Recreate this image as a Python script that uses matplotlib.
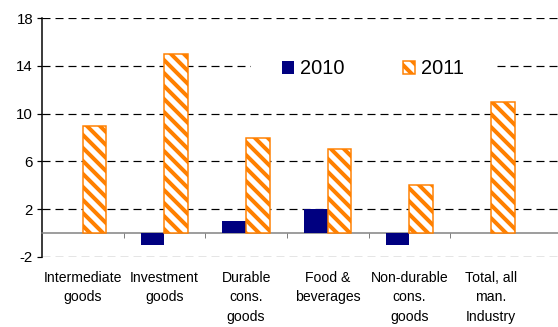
import matplotlib
matplotlib.use("Agg")
import matplotlib.pyplot as plt
import numpy as np

categories = ["Intermediate\ngoods", "Investment\ngoods", "Durable\ncons.\ngoods",
              "Food &\nbeverages", "Non-durable\ncons.\ngoods", "Total, all\nman.\nIndustry"]
values_2010 = [0, -1, 1, 2, -1, 0]
values_2011 = [9, 15, 8, 7, 4, 11]
series_labels = ["2010", "2011"]
y_ticks = [-2, 2, 6, 10, 14, 18]

DPI = 78
W, H = 558, 327


def pt(px):
    return px * 72.0 / DPI


plt.rcParams["font.family"] = ["Liberation Sans", "DejaVu Sans"]
plt.rcParams["hatch.linewidth"] = pt(4.0)
plt.rcParams["axes.unicode_minus"] = False

navy = "#000080"
orange = "#FF8000"

fig = plt.figure(figsize=(W / DPI, H / DPI), dpi=DPI)
ax = fig.add_axes([42 / W, 1 - 257 / H, 1 - 42 / W, (257 - 18) / H])

x = np.arange(len(categories))
bw = 0.29
ax.bar(x - bw / 2, values_2010, bw, color=navy, linewidth=0,
       zorder=6, label=series_labels[0])
ax.bar(x + bw / 2, values_2011, bw, color="white", edgecolor=orange,
       hatch="\\\\", linewidth=pt(1.5), zorder=6, label=series_labels[1])

ax.set_ylim(-2, 18)
ax.set_xlim(-0.5, 5.82)
ax.set_yticks(y_ticks)
ax.yaxis.grid(True, linestyle=(0, (8 / 1.2, 5 / 1.2)),
              color="black", linewidth=pt(1.2), zorder=0)
ax.set_axisbelow(True)

# bottom spine on the zero line, ticks at category boundaries
ax.spines["bottom"].set_position(("data", 0))
ax.spines["bottom"].set_color("#808080")
ax.spines["bottom"].set_linewidth(pt(1.5))
ax.spines["top"].set_visible(False)
ax.spines["right"].set_visible(False)
ax.spines["left"].set_linewidth(pt(1.5))
ax.set_xticks(np.arange(0.5, 5.5, 1.0))
ax.tick_params(axis="x", length=pt(5), width=pt(1), color="#808080",
               labelbottom=False)
ax.tick_params(axis="y", length=pt(5), width=pt(1.2), labelsize=pt(15),
               pad=pt(4))

# category labels below the plot area, one per group
for xi, lab in zip(x, categories):
    ax.text(xi, -2 - 14 / 12.0, lab, ha="center", va="top",
            fontsize=pt(14), linespacing=1.5, clip_on=False)

leg = ax.legend(loc="center", bbox_to_anchor=((373 - 42) / (W - 42), 1 - (69 - 18) / (257 - 18)),
                ncol=2, fontsize=pt(20), frameon=True, fancybox=False,
                handlelength=0.62, handleheight=0.62, handletextpad=0.3,
                columnspacing=2.9, borderpad=1.55)
leg.get_frame().set_edgecolor("none")
leg.get_frame().set_facecolor("white")
leg.get_frame().set_alpha(1)
leg.set_zorder(5)

fig.savefig("out.png", dpi=DPI)
